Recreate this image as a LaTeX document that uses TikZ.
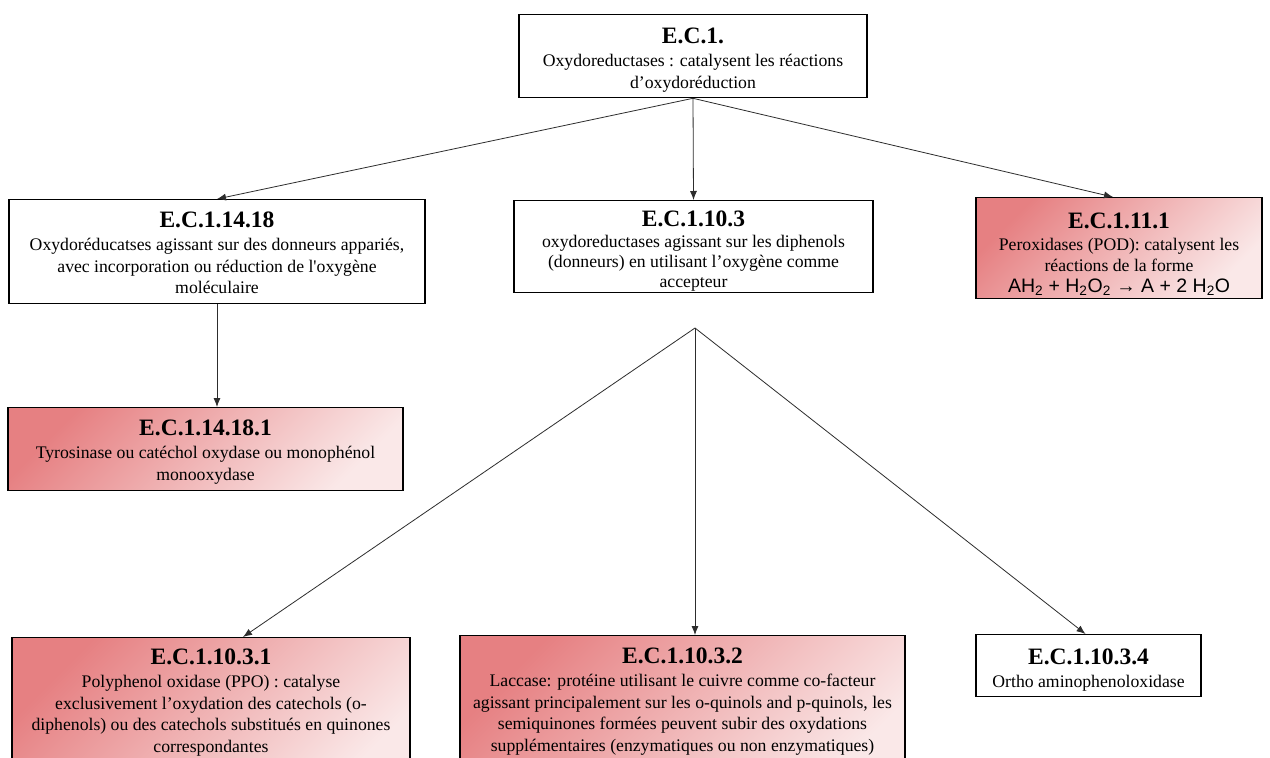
\documentclass[tikz,border=0pt]{standalone}
\usepackage{fontspec}
\setmainfont{Liberation Serif}
\newfontfamily\sansf{Liberation Sans}
\usetikzlibrary{arrows.meta,calc}
\definecolor{pinkA}{RGB}{230,128,130}
\definecolor{pinkB}{RGB}{250,232,232}
\definecolor{linec}{RGB}{45,45,45}
\newcommand{\ttl}[1]{{\fontsize{23.5}{25}\selectfont\bfseries #1}}
\begin{document}
\begin{tikzpicture}[x=1pt,y=-1pt,
  box/.style={draw=black,line width=1.3pt,align=center,inner xsep=1pt,inner ysep=0pt,
    anchor=north,font=\fontsize{17.7}{21.5}\selectfont},
  pinkbox/.style={box,top color=pinkA,bottom color=pinkB,shading angle=45},
  arr/.style={draw=linec,line width=0.8pt,-{Latex[length=9pt,width=7pt]}}]
\clip (0,0) rectangle (1270,758);
\fill[white] (0,0) rectangle (1270,758);

\node[box,minimum width=348pt,text height=73.5pt,text depth=9.5pt] (top) at (693,14)
  {\ttl{E.C.1.}\\[1.5pt]Oxydoreductases : catalysent les réactions\\d’oxydoréduction};

\node[box,minimum width=416pt,text height=94pt,text depth=10pt] (b1) at (217,199)
  {\ttl{E.C.1.14.18}\\[1.5pt]Oxydoréducatses agissant sur des donneurs appariés,\\avec incorporation ou réduction de l\textquotesingle oxygène\\moléculaire};

\node[box,minimum width=359pt,text height=87pt,text depth=5pt,
      font=\fontsize{17.7}{20}\selectfont] (b2) at (693.5,200)
  {\ttl{E.C.1.10.3}\\[1pt]oxydoreductases agissant sur les diphenols\\(donneurs) en utilisant l’oxygène comme\\accepteur};

\node[pinkbox,minimum width=286pt,text height=95pt,text depth=5.5pt,
      font=\fontsize{17.7}{21}\selectfont] (b3) at (1119,197)
  {\ttl{E.C.1.11.1}\\[1pt]Peroxidases (POD): catalysent les\\réactions de la forme\\{\sansf\fontsize{19.5}{21}\selectfont AH\textsubscript{2} + H\textsubscript{2}O\textsubscript{2} → A + 2 H\textsubscript{2}O}};

\node[pinkbox,minimum width=395pt,text height=72.5pt,text depth=10.5pt] (b11) at (205.5,407)
  {\ttl{E.C.1.14.18.1}\\[1.5pt]Tyrosinase ou catéchol oxydase ou monophénol\\monooxydase};

\node[pinkbox,minimum width=398pt,text height=114.5pt,text depth=40pt] (b31) at (211,637)
  {\ttl{E.C.1.10.3.1}\\[1.5pt]Polyphenol oxidase (PPO) : catalyse\\exclusivement l’oxydation des catechols (o-\\diphenols) ou des catechols substitués en quinones\\correspondantes};

\node[pinkbox,minimum width=445pt,text height=115.5pt,text depth=40pt] (b32) at (682.5,635)
  {\ttl{E.C.1.10.3.2}\\[1.5pt]Laccase: protéine utilisant le cuivre comme co-facteur\\agissant principalement sur les o-quinols and p-quinols, les\\semiquinones formées peuvent subir des oxydations\\supplémentaires (enzymatiques ou non enzymatiques)};

\node[box,minimum width=225pt,text height=53pt,text depth=9pt] (b34) at (1088.5,634)
  {\ttl{E.C.1.10.3.4}\\[1.5pt]Ortho aminophenoloxidase};

\coordinate (apex) at (695,328);

\draw[arr] (top.south) -- (b1.north);
\draw[arr] (top.south) -- (b2.north);
\draw[arr] (top.south) -- ([xshift=-6pt]b3.north);
\draw[arr] (b1.south) -- (b1.south |- b11.north);
\draw[arr] (apex) -- ([xshift=32pt]b31.north);
\draw[arr] (apex) -- ([xshift=12.5pt]b32.north);
\draw[arr] (apex) -- ([xshift=-3pt]b34.north);
\end{tikzpicture}
\end{document}
